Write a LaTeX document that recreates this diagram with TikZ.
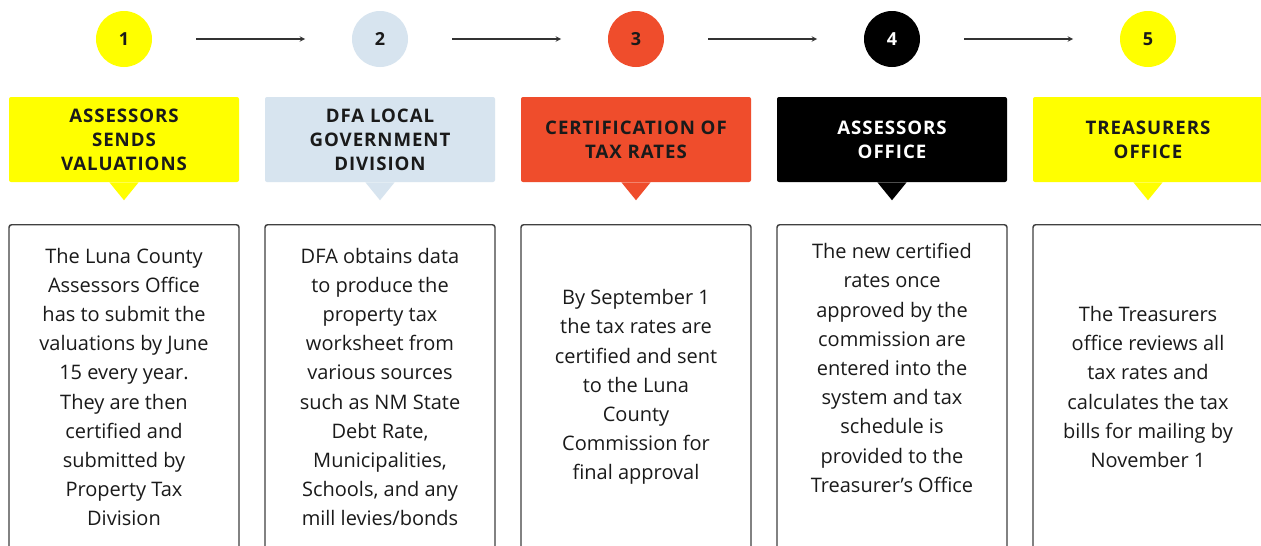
\documentclass[tikz,border=0pt]{standalone}
\usepackage{fontspec}
\setmainfont{Open Sans}
\newfontfamily\headfont[LetterSpace=5]{Open Sans}
\usepackage{tikz}
\usetikzlibrary{shapes.geometric, arrows, positioning}
\tikzstyle{arrow} = [thick,->,>=stealth, draw=black!80]
\definecolor{yel}{HTML}{FFFF00}
\definecolor{lblue}{HTML}{D7E4EF}
\definecolor{tomato}{HTML}{EF4D2C}
\definecolor{ink}{HTML}{1A1A1A}

\begin{document}
\begin{tikzpicture}[x=0.75pt, y=-0.75pt]
   \tikzset{step circle/.style={circle, minimum size=42pt, inner sep=0pt, font=\headfont\bfseries\fontsize{13.5pt}{15pt}\selectfont},
   head/.style={rectangle, rounded corners=1.5pt, minimum width=172.5pt, minimum height=63.75pt, align=center, font=\headfont\bfseries\fontsize{14pt}{18pt}\selectfont, text=ink},
   body/.style={draw=black!75, line width=1.1pt, rounded corners=2pt, rectangle, minimum width=172.5pt, minimum height=260pt, anchor=north},
   bodytext/.style={align=center, font=\fontsize{15pt}{21.9pt}\selectfont, text=ink}
   }
 \useasboundingbox (0,0) rectangle (1261,546);
 \fill[white] (0,0) rectangle (1261,546);
 \clip (0,0) rectangle (1261,546);

 % steps
 \node [step circle, fill=yel, text=ink] (c1) at (124,39) {1};
 \node [step circle, fill=lblue, text=ink] (c2) at (380,39) {2};
 \node [step circle, fill=tomato, text=ink] (c3) at (636,39) {3};
 \node [step circle, fill=black, text=white] (c4) at (892,39) {4};
 \node [step circle, fill=yel, text=ink] (c5) at (1148,39) {5};

 \draw [arrow, shorten <=33pt, shorten >=35pt] (c1) -- (c2);
 \draw [arrow, shorten <=33pt, shorten >=35pt] (c2) -- (c3);
 \draw [arrow, shorten <=33pt, shorten >=35pt] (c3) -- (c4);
 \draw [arrow, shorten <=33pt, shorten >=35pt] (c4) -- (c5);

 % headers
 \node [head, fill=yel] (h1) at (124,139.5) {ASSESSORS\\SENDS\\VALUATIONS};
 \node [head, fill=lblue] (h2) at (380,139.5) {DFA LOCAL\\GOVERNMENT\\DIVISION};
 \node [head, fill=tomato] (h3) at (636,139.5) {CERTIFICATION OF\\TAX RATES};
 \node [head, fill=black, text=white] (h4) at (892,139.5) {ASSESSORS\\OFFICE};
 \node [head, fill=yel] (h5) at (1148,139.5) {TREASURERS\\OFFICE};

 \foreach \n/\c in {h1/yel, h2/lblue, h3/tomato, h4/black, h5/yel}
   \fill [\c] ([xshift=-11pt]\n.south) -- ([xshift=11pt]\n.south) -- ([yshift=-13.5pt]\n.south) -- cycle;

 % text boxes
 \node [body] (b1) at (124,224) {};
 \node [body] (b2) at (380,224) {};
 \node [body] (b3) at (636,224) {};
 \node [body] (b4) at (892,224) {};
 \node [body] (b5) at (1148,224) {};

 \node [bodytext] (t1) at (124,387) {The Luna County\\Assessors Office\\has to submit the\\valuations by June\\15 every year.\\They are then\\certified and\\submitted by\\Property Tax\\Division};
 \node [bodytext] (t2) at (380,387) {DFA obtains data\\to produce the\\property tax\\worksheet from\\various sources\\such as NM State\\Debt Rate,\\Municipalities,\\Schools, and any\\mill levies/bonds};
 \node [bodytext] (t3) at (636,387) {By September 1\\the tax rates are\\certified and sent\\to the Luna\\County\\Commission for\\final approval};
 \node [bodytext] (t4) at (892,368) {The new certified\\rates once\\approved by the\\commission are\\entered into the\\system and tax\\schedule is\\provided to the\\Treasurer’s Office};
 \node [bodytext] (t5) at (1148,387) {The Treasurers\\office reviews all\\tax rates and\\calculates the tax\\bills for mailing by\\November 1};
\end{tikzpicture}
\end{document}
